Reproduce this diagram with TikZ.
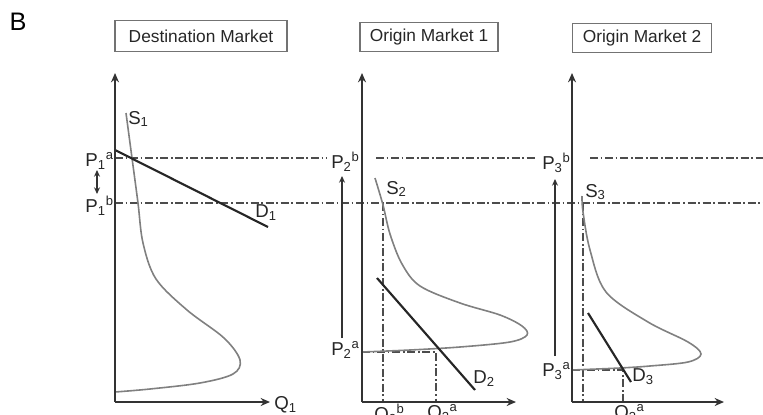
\documentclass[tikz,border=0pt]{standalone}
\usepackage{fontspec}
\setmainfont{Liberation Sans}
\usetikzlibrary{arrows.meta}
\newcommand{\plab}[3]{#1\textsubscript{#2}\textsuperscript{#3}}
\begin{document}
\begin{tikzpicture}[x=0.75pt,y=-0.75pt,
  axis/.style={line width=1.5pt, draw=black!80, -{Stealth[length=7pt,width=6pt]}},
  dd/.style={line width=1.1pt, draw=black!70, dash pattern=on 6pt off 2pt on 1.3pt off 2pt},
  scurve/.style={line width=1.2pt, draw=black!50},
  dline/.style={line width=1.6pt, draw=black!85},
  title/.style={draw=black!55, line width=0.8pt, font=\fontsize{13}{15}\selectfont, text=black!85, inner sep=0pt},
  lab/.style={font=\fontsize{14}{16}\selectfont, text=black!85, inner sep=0pt},
  pshift/.style={line width=1pt, draw=black!80, -{Stealth[length=5pt,width=4.5pt]}}
]
\useasboundingbox (0,0) rectangle (763,414);
\node[font=\fontsize{19}{21}\selectfont, inner sep=0pt] (B) at (18,22) {B};
% titles
\node[title, minimum width=129pt, minimum height=23pt] (t1) at (201,36) {Destination Market};
\node[title, minimum width=103.5pt, minimum height=22pt] (t2) at (429,37) {Origin Market 1};
\node[title, minimum width=104pt, minimum height=22pt] (t3) at (642,38) {Origin Market 2};
% coordinates
\coordinate (o1) at (115,402); \coordinate (y1) at (115,73); \coordinate (x1) at (270,402);
\coordinate (o2) at (362,402); \coordinate (y2) at (362,73); \coordinate (x2) at (516,402);
\coordinate (o3) at (572,402); \coordinate (y3) at (572,73); \coordinate (x3) at (724,402);
% dash-dot price lines
\coordinate (ha0) at (115,158); \coordinate (ha1) at (326,158);
\coordinate (ha2) at (376,158); \coordinate (ha3) at (536,158);
\coordinate (ha4) at (590,158); \coordinate (ha5) at (763,158);
\coordinate (hb0) at (115,203); \coordinate (hb1) at (763,203);
\draw[dd] (ha0) -- (ha1); \draw[dd] (ha2) -- (ha3); \draw[dd] (ha4) -- (ha5);
\draw[dd] (hb0) -- (hb1);
% panel 2 dash-dot
\coordinate (q2b) at (383,402); \coordinate (q2bt) at (383,203);
\coordinate (q2a) at (436,402); \coordinate (q2at) at (436,352);
\coordinate (p2a) at (362,352);
\draw[dd] (q2bt) -- (q2b);
\draw[dd] (p2a) -- (q2at) -- (q2a);
% panel 3 dash-dot
\coordinate (q3b) at (583,402); \coordinate (q3bt) at (583,203);
\coordinate (q3a) at (623,402); \coordinate (q3at) at (623,370);
\coordinate (p3a) at (572,370);
\draw[dd] (q3bt) -- (q3b);
\draw[dd] (p3a) -- (q3at) -- (q3a);
% supply curves
\draw[scurve] plot[smooth, tension=0.55] coordinates {(126,113) (132,158) (138,203) (143,243) (156,279) (187,310) (224,338) (240,360) (233,374) (200,383) (150,389) (115,392)};
\draw[scurve] plot[smooth, tension=0.55] coordinates {(375,178) (383,205) (390,234) (402,264) (420,286) (460,303) (500,315) (522,326) (527,335) (510,342) (460,347) (410,350) (362,352)};
\draw[scurve] plot[smooth, tension=0.55] coordinates {(582,196) (583,212) (590,250) (606,292) (648,322) (688,342) (701,354) (688,362) (650,366) (620,368) (572,370)};
% demand curves
\coordinate (d1s) at (115,150); \coordinate (d1e) at (268,227);
\coordinate (d2s) at (377,278); \coordinate (d2e) at (475,390);
\coordinate (d3s) at (588,313); \coordinate (d3e) at (631,382);
\draw[dline] (d1s) -- (d1e);
\draw[dline] (d2s) -- (d2e);
\draw[dline] (d3s) -- (d3e);
% axes
\draw[axis] (o1) -- (y1); \draw[axis] (o1) -- (x1);
\draw[axis] (o2) -- (y2); \draw[axis] (o2) -- (x2);
\draw[axis] (o3) -- (y3); \draw[axis] (o3) -- (x3);
% price shift arrows
\coordinate (a1t) at (97,170); \coordinate (a1b) at (97,194);
\draw[pshift, {Stealth[length=5pt,width=4.5pt]}-{Stealth[length=5pt,width=4.5pt]}] (a1b) -- (a1t);
\coordinate (a2b) at (342,338); \coordinate (a2t) at (342,176);
\draw[pshift] (a2b) -- (a2t);
\coordinate (a3b) at (555,356); \coordinate (a3t) at (555,179);
\draw[pshift] (a3b) -- (a3t);
% labels
\node[lab, anchor=west] (S1) at (128,119) {\plab{S}{1}{}};
\node[lab, anchor=west] (S2) at (386,189) {\plab{S}{2}{}};
\node[lab, anchor=west] (S3) at (585,192) {\plab{S}{3}{}};
\node[lab, anchor=west] (D1) at (255,213) {\plab{D}{1}{}};
\node[lab, anchor=west] (D2) at (473,379) {\plab{D}{2}{}};
\node[lab, anchor=west] (D3) at (632,377) {\plab{D}{3}{}};
\node[lab, anchor=west] (Q1) at (274,405) {\plab{Q}{1}{}};
\node[lab, anchor=east] (P1a) at (114,161) {\plab{P}{1}{a}};
\node[lab, anchor=east] (P1b) at (114,206) {\plab{P}{1}{b}};
\node[lab, anchor=west] (P2b) at (331,162) {\plab{P}{2}{b}};
\node[lab, anchor=west] (P2a) at (331,350) {\plab{P}{2}{a}};
\node[lab, anchor=west] (P3b) at (542,163) {\plab{P}{3}{b}};
\node[lab, anchor=west] (P3a) at (542,371) {\plab{P}{3}{a}};
\node[lab, anchor=north west] (Q2b) at (374,404) {\plab{Q}{2}{b}};
\node[lab, anchor=north west] (Q2a) at (427,404) {\plab{Q}{2}{a}};
\node[lab, anchor=north west] (Q3a) at (614,404) {\plab{Q}{3}{a}};
\end{tikzpicture}
\end{document}
